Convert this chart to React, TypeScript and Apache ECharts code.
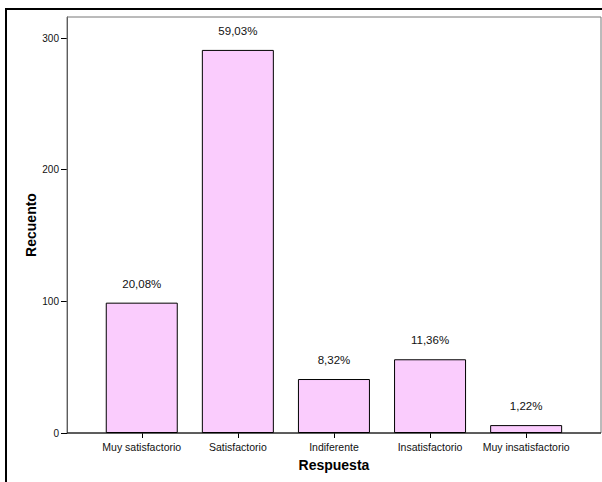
import React, { useEffect, useRef } from "react";
import * as echarts from "echarts";

const categories = ["Muy satisfactorio", "Satisfactorio", "Indiferente", "Insatisfactorio", "Muy insatisfactorio"];
const counts = [99, 291, 41, 56, 6];
const percentLabels = ["20,08%", "59,03%", "8,32%", "11,36%", "1,22%"];
const yTicks = [0, 100, 200, 300];

const FONT = "'Liberation Sans', Arial, sans-serif";

export default function App() {
  const ref = useRef<HTMLDivElement>(null);
  useEffect(() => {
    if (!ref.current) return;
    const chart = echarts.init(ref.current, undefined, { renderer: "svg" });
    chart.setOption({
      animation: false,
      backgroundColor: "#ffffff",
      grid: { left: 93.7, width: 480.5, top: 17, bottom: 49, containLabel: false },
      xAxis: {
        type: "category",
        data: categories,
        name: "Respuesta",
        nameLocation: "middle",
        nameGap: 25,
        nameMoveOverlap: false,
        nameTextStyle: { fontFamily: FONT, fontSize: 14, fontWeight: "bold", color: "#000" },
        axisLine: { show: false },
        axisTick: { show: true, alignWithLabel: true, length: 5, lineStyle: { color: "#000" } },
        axisLabel: { fontFamily: FONT, fontSize: 10.5, color: "#111", margin: 8, interval: 0 },
        splitLine: { show: false },
      },
      yAxis: {
        type: "value",
        min: 0,
        max: 316,
        interval: 100,
        offset: 26.7,
        name: "Recuento",
        nameLocation: "middle",
        nameGap: 29,
        nameMoveOverlap: false,
        nameTextStyle: { fontFamily: FONT, fontSize: 14, fontWeight: "bold", color: "#000" },
        axisLine: { show: true, lineStyle: { color: "#444" } },
        axisTick: { show: true, length: 6, lineStyle: { color: "#000" }, customValues: yTicks },
        axisLabel: { fontFamily: FONT, fontSize: 10, color: "#111", margin: 8, customValues: yTicks },
        splitLine: { show: false },
      },
      graphic: [
        {
          type: "rect",
          shape: { x: 67, y: 17, width: 534, height: 416 },
          style: { fill: "none", stroke: "#777", lineWidth: 1 },
          silent: true,
          z: 1,
        },
        {
          type: "line",
          shape: { x1: 67, y1: 433, x2: 601, y2: 433 },
          style: { stroke: "#000", lineWidth: 1 },
          silent: true,
          z: 10,
        },
        {
          type: "rect",
          shape: { x: 6, y: 9, width: 800, height: 700 },
          style: { fill: "none", stroke: "#000", lineWidth: 2 },
          silent: true,
          z: 10,
        },
      ],
      series: [
        {
          type: "bar",
          data: counts,
          barWidth: 72,
          itemStyle: { color: "#FACCFD", borderColor: "#000", borderWidth: 1 },
          label: {
            show: true,
            position: "top",
            distance: 13,
            fontFamily: FONT,
            fontSize: 11.5,
            color: "#111",
            formatter: (p: any) => percentLabels[p.dataIndex],
          },
          z: 5,
        },
      ],
    });
    return () => chart.dispose();
  }, []);
  return <div ref={ref} style={{ position: "fixed", left: 0, top: 0, width: 602, height: 482 }} />;
}
